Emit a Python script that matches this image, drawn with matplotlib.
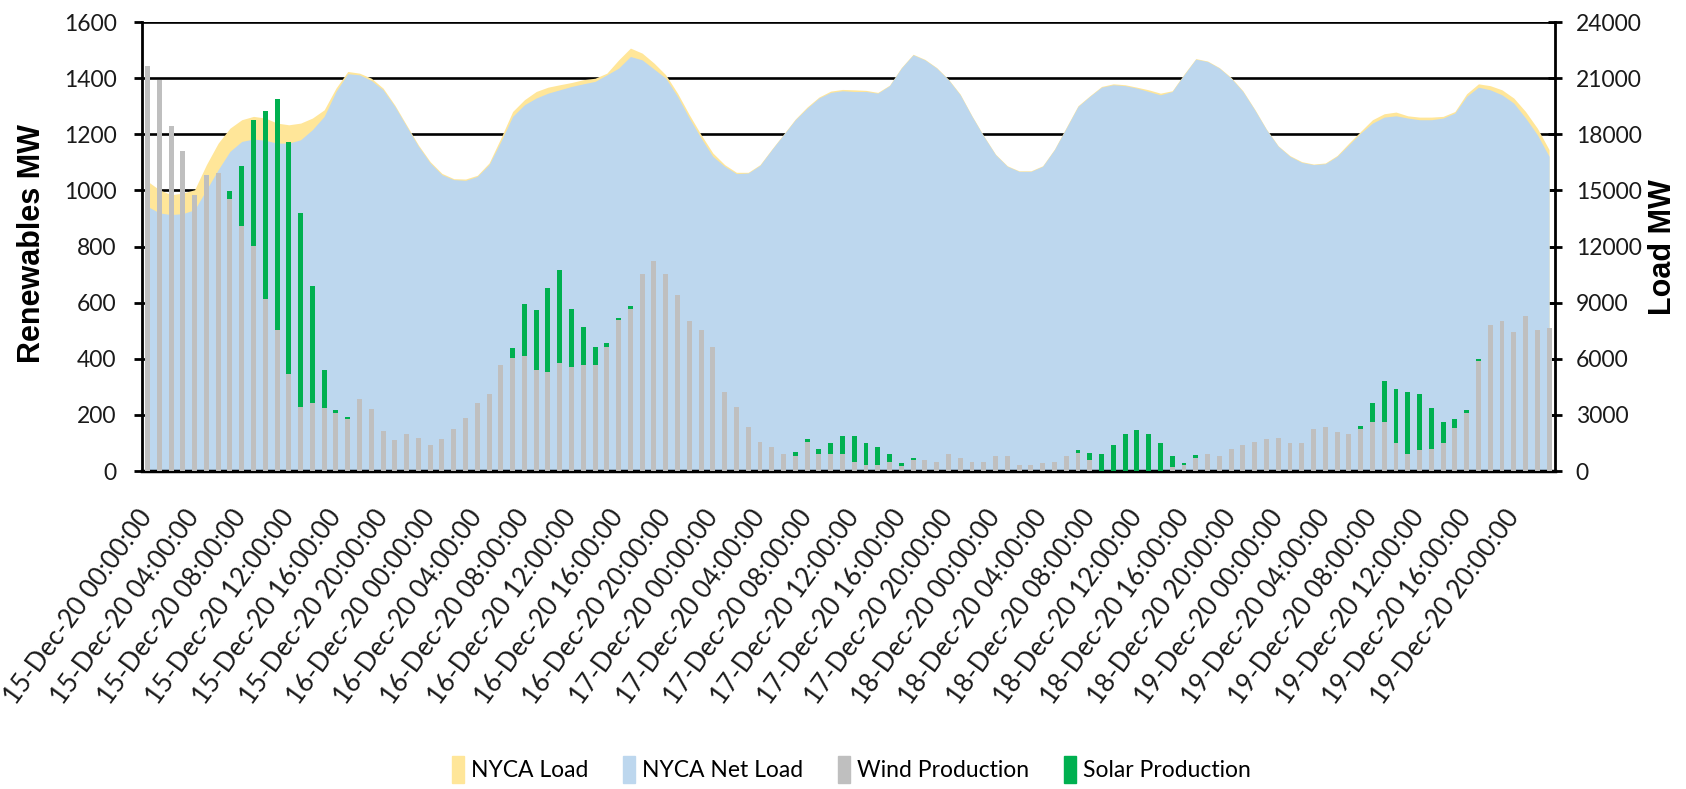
import matplotlib
matplotlib.use('Agg')
import matplotlib.pyplot as plt
import numpy as np
import pandas as pd
from matplotlib.patches import Patch

# ---------------- data ----------------
hours = pd.date_range('2020-12-15 00:00', periods=120, freq='h')
tick_labels = [t.strftime('%d-%b-%y %H:%M:%S') for t in hours[::4]]

wind = [1445, 1392, 1231, 1140, 983, 1054, 1062, 970, 872, 801,
        614, 502, 347, 229, 241, 223, 208, 184, 255, 222,
        142, 110, 133, 119, 91, 113, 151, 190, 241, 273,
        377, 404, 410, 360, 353, 386, 372, 377, 377, 443,
        540, 578, 703, 748, 703, 626, 534, 502, 443, 281,
        229, 158, 104, 87, 59, 53, 104, 59, 59, 59,
        32, 20, 20, 33, 18, 39, 39, 33, 59, 47,
        33, 33, 53, 53, 20, 20, 27, 33, 53, 65,
        39, 0, 0, 0, 0, 0, 0, 15, 20, 45,
        59, 53, 80, 93, 104, 113, 119, 99, 99, 151,
        158, 139, 133, 151, 176, 176, 99, 62, 74, 80,
        99, 152, 208, 392, 522, 534, 495, 554, 502, 508]

solar = [0, 0, 0, 0, 0, 0, 0, 27, 216, 449,
         668, 825, 825, 689, 418, 137, 9, 9, 0, 0,
         0, 0, 0, 0, 0, 0, 0, 0, 0, 0,
         0, 33, 184, 213, 299, 330, 207, 138, 66, 14,
         7, 11, 0, 0, 0, 0, 0, 0, 0, 0,
         0, 0, 0, 0, 0, 15, 9, 20, 40, 66,
         93, 79, 65, 26, 9, 8, 0, 0, 0, 0,
         0, 0, 0, 0, 0, 0, 0, 0, 0, 10,
         26, 59, 93, 133, 145, 133, 101, 38, 10, 11,
         0, 0, 0, 0, 0, 0, 0, 0, 0, 0,
         0, 0, 0, 9, 67, 144, 195, 219, 199, 143,
         77, 32, 9, 8, 0, 0, 0, 0, 0, 0]

load = [15490, 15040, 14770, 14860, 15040, 16380, 17530, 18330, 18780, 18960,
        18870, 18600, 18510, 18600, 18870, 19310, 20470, 21360, 21270, 21000,
        20470, 19560, 18490, 17430, 16540, 15910, 15630, 15610, 15810, 16470,
        17800, 19220, 19850, 20290, 20520, 20650, 20770, 20920, 21000, 21270,
        21980, 22610, 22340, 21810, 21180, 20200, 19050, 17980, 17000, 16380,
        15970, 15970, 16380, 17210, 18010, 18820, 19460, 19990, 20310, 20400,
        20380, 20350, 20240, 20630, 21570, 22280, 22010, 21570, 20950, 20150,
        18990, 17920, 16940, 16320, 16050, 16050, 16320, 17210, 18370, 19530,
        20060, 20560, 20700, 20650, 20520, 20380, 20200, 20330, 21220, 22050,
        21920, 21570, 21040, 20330, 19350, 18280, 17390, 16860, 16540, 16410,
        16470, 16870, 17530, 18160, 18780, 19100, 19190, 18990, 18920, 18920,
        18960, 19220, 20170, 20700, 20600, 20380, 19940, 19220, 18330, 17180]

net_load = [14150, 13800, 13710, 13760, 13970, 15040, 16110, 17090, 17620, 17750,
            17680, 17530, 17530, 17710, 18250, 18960, 20290, 21240, 21180, 20880,
            20380, 19490, 18420, 17360, 16470, 15840, 15580, 15540, 15750, 16380,
            17620, 18960, 19580, 19940, 20200, 20380, 20560, 20700, 20830, 21180,
            21540, 22160, 21980, 21490, 21000, 20030, 18870, 17800, 16820, 16290,
            15900, 15930, 16340, 17180, 17980, 18780, 19400, 19940, 20240, 20330,
            20290, 20290, 20200, 20600, 21540, 22250, 21980, 21540, 20920, 20110,
            18960, 17890, 16910, 16290, 16020, 16020, 16290, 17180, 18330, 19490,
            20030, 20520, 20650, 20600, 20470, 20290, 20110, 20290, 21180, 22020,
            21890, 21540, 21000, 20290, 19310, 18250, 17360, 16820, 16500, 16380,
            16430, 16820, 17440, 18070, 18600, 18920, 18990, 18870, 18780, 18780,
            18870, 19140, 20030, 20520, 20380, 20110, 19670, 18870, 17980, 16820]

# ---------------- style ----------------
plt.rcParams['font.family'] = ['Lato', 'DejaVu Sans']
C_LOAD = '#FFE699'
C_NET = '#BDD7EE'
C_WIND = '#BFBFBF'
C_SOLAR = '#00B050'

fig = plt.figure(figsize=(16.86, 7.89), dpi=100)
ax = fig.add_axes([0.084, 0.403, 0.8383, 0.569])
ax2 = ax.twinx()
ax.set_zorder(2)
ax2.set_zorder(1)
ax.patch.set_visible(False)

x = np.arange(len(wind))

# load areas on secondary axis (behind)
ax2.fill_between(x, 0, load, color=C_LOAD, lw=0, zorder=2)
ax2.fill_between(x, 0, net_load, color=C_NET, lw=0, zorder=3)
ax2.set_ylim(0, 24000)
ax2.set_yticks(np.arange(0, 24001, 3000))
ax2.yaxis.grid(True, color='black', lw=1.9, zorder=1)
ax2.set_axisbelow(True)

# renewables bars (front)
bw = 0.42
ax.bar(x, wind, width=bw, color=C_WIND, lw=0, zorder=3)
ax.bar(x, solar, width=bw, bottom=wind, color=C_SOLAR, lw=0, zorder=3)
ax.set_ylim(0, 1600)
ax.set_yticks(np.arange(0, 1601, 200))
ax.set_xlim(-0.5, len(wind) - 0.5)

ax.set_xticks(x[::4])
ax.set_xticklabels(tick_labels, rotation=54, ha='right', va='center',
                   rotation_mode='anchor', fontsize=18.5, color='#1a1a1a')
ax.tick_params(axis='x', length=0, pad=30)
ax.tick_params(axis='y', direction='out', length=6, width=2, labelsize=16.5,
               pad=12, colors='black')
ax2.tick_params(axis='y', direction='inout', length=10, width=2,
                labelsize=16.5, pad=10, colors='black')
for lab in ax.get_yticklabels() + ax2.get_yticklabels():
    lab.set_color('#1a1a1a')

for sp in ['top', 'right']:
    ax.spines[sp].set_visible(False)
for sp in ['top', 'left', 'bottom']:
    ax2.spines[sp].set_visible(False)
ax.spines['left'].set_linewidth(2)
ax.spines['bottom'].set_linewidth(2.5)
ax2.spines['right'].set_linewidth(2)

fig.text(32 / 1686, 1 - 244 / 789, 'Renewables MW', rotation=90, ha='center',
         va='center', fontsize=22, fontweight='bold',
         family=['Liberation Sans', 'DejaVu Sans'])
fig.text(1663 / 1686, 1 - 247 / 789, 'Load MW', rotation=90, ha='center',
         va='center', fontsize=22, fontweight='bold',
         family=['Liberation Sans', 'DejaVu Sans'])

handles = [Patch(color=C_LOAD), Patch(color=C_NET),
           Patch(color=C_WIND), Patch(color=C_SOLAR)]
labels = ['NYCA Load', 'NYCA Net Load', 'Wind Production', 'Solar Production']
fig.legend(handles, labels, loc='center', bbox_to_anchor=(0.505, 0.025),
           ncol=4, frameon=False, fontsize=16.5, handlelength=0.55,
           handleheight=1.4, handletextpad=0.3, columnspacing=1.5)

fig.savefig('out.png', dpi=100)
